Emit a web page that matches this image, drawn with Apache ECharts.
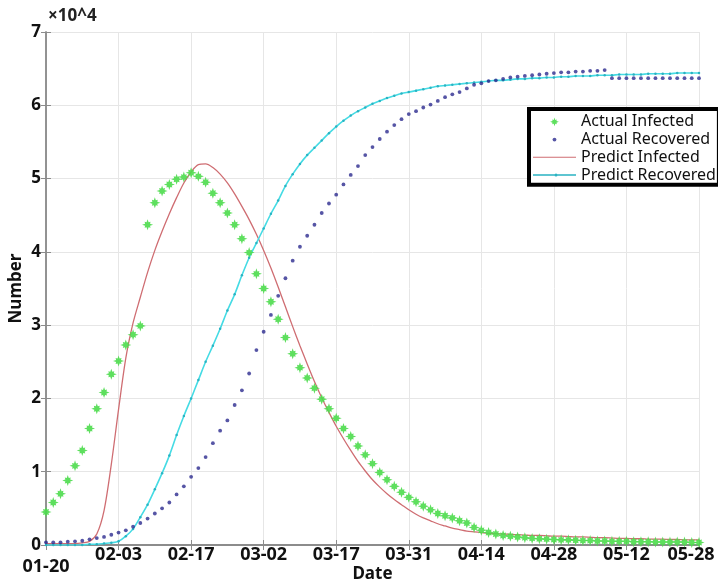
<!DOCTYPE html>
<html>
<head>
<meta charset="utf-8">
<script src="https://cdn.jsdelivr.net/npm/echarts@6/dist/echarts.min.js"></script>
<style>html,body{margin:0;padding:0;background:#fff}#c{width:718px;height:583px}</style>
</head>
<body>
<div id="c"></div>
<script>
// Tick labels for the 10 gridlines (x index 0,10,...,90)
const tickLabels = ['01-20','02-03','02-17','03-02','03-17','03-31','04-14','04-28','05-12','05-28'];

// Values in units of 10^4, one per day index 0..90
const actualInfected = [0.45,0.58,0.70,0.88,1.08,1.29,1.59,1.86,2.08,2.33,
  2.51,2.73,2.87,2.99,4.37,4.67,4.83,4.92,4.99,5.02,
  5.08,5.03,4.95,4.80,4.67,4.53,4.37,4.18,3.99,3.70,
  3.50,3.32,3.08,2.83,2.61,2.42,2.28,2.14,1.99,1.86,
  1.73,1.59,1.48,1.35,1.23,1.11,0.99,0.89,0.80,0.72,
  0.65,0.59,0.53,0.48,0.43,0.40,0.37,0.33,0.30,0.24,
  0.20,0.17,0.15,0.13,0.12,0.11,0.10,0.09,0.085,0.08,
  0.075,0.07,0.07,0.065,0.06,0.06,0.055,0.055,0.05,0.05,
  0.05,0.045,0.045,0.045,0.04,0.04,0.04,0.04,0.04,0.035,0.035];

const actualRecovered = [0.037,0.037,0.037,0.045,0.05,0.058,0.078,0.095,0.11,0.14,
  0.17,0.20,0.25,0.30,0.36,0.43,0.50,0.58,0.69,0.80,
  0.93,1.05,1.20,1.39,1.56,1.70,1.91,2.11,2.34,2.66,
  2.91,3.14,3.40,3.64,3.88,4.07,4.22,4.37,4.53,4.66,
  4.78,4.92,5.05,5.17,5.32,5.43,5.54,5.64,5.73,5.81,
  5.88,5.92,5.97,6.01,6.06,6.11,6.15,6.18,6.23,6.28,
  6.30,6.33,6.34,6.36,6.38,6.39,6.40,6.41,6.42,6.43,
  6.44,6.45,6.45,6.46,6.46,6.47,6.47,6.48,6.37,6.37,
  6.37,6.37,6.37,6.37,6.37,6.37,6.37,6.37,6.37,6.37,6.37];

const predictInfected = [0.02,0.02,0.02,0.02,0.02,0.03,0.05,0.15,0.47,1.10,
  1.85,2.55,3.03,3.38,3.72,4.02,4.28,4.52,4.74,4.94,
  5.09,5.19,5.20,5.15,5.06,4.94,4.79,4.62,4.44,4.24,
  4.02,3.78,3.52,3.25,2.98,2.72,2.47,2.23,2.01,1.81,
  1.62,1.45,1.29,1.14,1.01,0.89,0.79,0.70,0.62,0.55,
  0.48,0.42,0.37,0.33,0.29,0.26,0.23,0.21,0.19,0.18,
  0.17,0.16,0.155,0.15,0.145,0.14,0.135,0.13,0.13,0.125,
  0.12,0.12,0.115,0.11,0.11,0.105,0.10,0.10,0.095,0.09,
  0.09,0.085,0.085,0.08,0.08,0.08,0.075,0.075,0.07,0.07,0.07];

const predictRecovered = [0.00,0.00,0.00,0.00,0.00,0.00,0.01,0.01,0.02,0.03,
  0.05,0.12,0.22,0.38,0.55,0.76,0.98,1.22,1.50,1.76,
  2.00,2.25,2.50,2.72,2.95,3.20,3.42,3.68,3.92,4.12,
  4.32,4.52,4.70,4.90,5.06,5.20,5.32,5.42,5.52,5.62,
  5.71,5.79,5.86,5.92,5.97,6.02,6.06,6.10,6.13,6.16,
  6.18,6.20,6.22,6.24,6.26,6.27,6.28,6.29,6.30,6.31,
  6.32,6.33,6.34,6.34,6.35,6.36,6.36,6.37,6.37,6.38,
  6.38,6.39,6.39,6.40,6.40,6.40,6.41,6.41,6.41,6.42,
  6.42,6.42,6.42,6.43,6.43,6.43,6.43,6.44,6.44,6.44,6.44];

const pairs = arr => arr.map((v, i) => [i, v]);

const starBody = 'M10,5L7.22,5.92L7.69,7.69L5.92,7.22L5,10L4.08,7.22L2.31,7.69L2.78,5.92L0,5L2.78,4.08L2.31,2.31L4.08,2.78L5,0L5.92,2.78L7.69,2.31L7.22,4.08Z';
const starPath = 'path://' + starBody;
const starLegend = 'path://M-3,-3M13,13' + starBody;
const dotLegend = 'path://M-11,-11M11,11M3,0A3,3 0 1 1 -3,0A3,3 0 1 1 3,0Z';
const redLegend = 'path://M0,0M43,14M0,6.4H43V7.6H0Z';
const cyanLegend = 'path://M0,0M43,14M0,6.2H43V7.8H0Z M24.5,7A1.5,1.5 0 1 1 21.5,7A1.5,1.5 0 1 1 24.5,7Z';

const FONT = 'Noto Sans';
const axisGray = '#8c8c8c';

const chart = echarts.init(document.getElementById('c'), null, {renderer: 'canvas'});
chart.setOption({
  backgroundColor: '#fff',
  animation: false,
  textStyle: {fontFamily: FONT},
  title: {
    text: '×10^4', left: 43, top: 3,
    textStyle: {fontFamily: FONT, fontSize: 17, fontWeight: 'bold', color: '#222'}
  },
  grid: {left: 46, right: 19, top: 32, bottom: 38, containLabel: false, outerBoundsMode: 'none'},
  legend: {
    orient: 'vertical', left: 529, top: 109,
    padding: [4, 3, 1, 4],
    itemWidth: 43, itemHeight: 14, itemGap: 0,
    backgroundColor: '#fff', borderColor: '#000', borderWidth: 4, borderRadius: 0,
    itemStyle: {borderWidth: 0},
    textStyle: {fontFamily: FONT, fontSize: 16, lineHeight: 17.7, color: '#111'},
    data: [
      {name: 'Actual Infected', icon: starLegend},
      {name: 'Actual Recovered', icon: dotLegend},
      {name: 'Predict Infected', icon: redLegend},
      {name: 'Predict Recovered', icon: cyanLegend}
    ]
  },
  xAxis: [{
    type: 'value', min: 0, max: 90, interval: 10,
    name: 'Date', nameLocation: 'middle', nameGap: 21, nameMoveOverlap: false,
    nameTextStyle: {fontFamily: FONT, fontSize: 17, fontWeight: 'bold', color: '#111'},
    axisLine: {show: true, lineStyle: {color: axisGray, width: 2}},
    axisTick: {show: true, inside: true, length: 5, lineStyle: {color: axisGray}},
    splitLine: {show: true, lineStyle: {color: '#e6e6e6', width: 1}},
    axisLabel: {
      margin: 1, fontFamily: FONT, fontSize: 18, fontWeight: 'bold', color: '#111',
      formatter: function (v) {
        const k = Math.round(v / 10);
        if (k === 0) return '{low|' + tickLabels[k] + '}';
        if (k === tickLabels.length - 1) return '{last|' + tickLabels[k] + '}';
        return tickLabels[k];
      },
      rich: {
        low: {fontFamily: FONT, fontSize: 18, fontWeight: 'bold', color: '#111', padding: [12, 0, 0, 0]},
        last: {fontFamily: FONT, fontSize: 18, fontWeight: 'bold', color: '#111', padding: [0, 16, 0, 0]}
      }
    }
  }, {
    type: 'value', position: 'top', min: 0, max: 90, interval: 10,
    axisLine: {show: true, lineStyle: {color: axisGray, width: 1}},
    axisTick: {show: true, inside: true, length: 5, lineStyle: {color: axisGray}},
    axisLabel: {show: false}, splitLine: {show: false}
  }],
  yAxis: [{
    type: 'value', min: 0, max: 7, interval: 1,
    name: 'Number', nameLocation: 'middle', nameGap: 21, nameRotate: 90, nameMoveOverlap: false,
    nameTextStyle: {fontFamily: FONT, fontSize: 17, fontWeight: 'bold', color: '#111'},
    axisLine: {show: true, lineStyle: {color: axisGray, width: 1.5}},
    axisTick: {show: true, inside: true, length: 5, lineStyle: {color: axisGray}},
    splitLine: {show: true, lineStyle: {color: '#e6e6e6', width: 1}},
    axisLabel: {margin: 5, fontFamily: FONT, fontSize: 17, fontWeight: 'bold', color: '#111'}
  }, {
    type: 'value', position: 'right', min: 0, max: 7, interval: 1,
    axisLine: {show: true, lineStyle: {color: axisGray, width: 1.5}},
    axisTick: {show: true, inside: true, length: 5, lineStyle: {color: axisGray}},
    axisLabel: {show: false}, splitLine: {show: false}
  }],
  series: [
    {
      name: 'Predict Infected', type: 'line', data: pairs(predictInfected),
      symbol: 'none', smooth: 0.3, color: '#cf6d72',
      lineStyle: {color: '#cf6d72', width: 1.3}, z: 2
    },
    {
      name: 'Predict Recovered', type: 'line', data: pairs(predictRecovered),
      symbol: 'circle', symbolSize: 2.5, showSymbol: true, smooth: 0.3, color: '#45dbe4',
      lineStyle: {color: '#45dbe4', width: 1.6},
      itemStyle: {color: '#2ab3c2', borderWidth: 0}, z: 2
    },
    {
      name: 'Actual Infected', type: 'scatter', data: pairs(actualInfected),
      symbol: starPath, symbolSize: 11, color: '#4cdc4c',
      itemStyle: {color: '#4cdc4c', opacity: 0.9}, z: 3
    },
    {
      name: 'Actual Recovered', type: 'scatter', data: pairs(actualRecovered),
      symbol: 'circle', symbolSize: 3.8, color: '#2c2a8e',
      itemStyle: {color: '#2c2a8e'}, z: 4
    }
  ]
});
</script>
</body>
</html>
